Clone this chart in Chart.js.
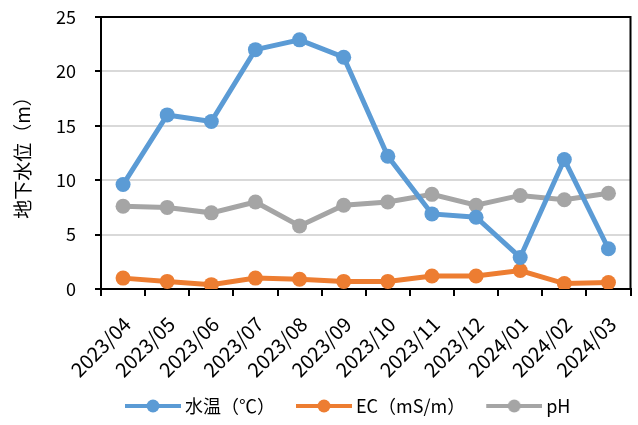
<!DOCTYPE html>
<html>
<head>
<meta charset="utf-8">
<script src="https://cdn.jsdelivr.net/npm/chart.js@4/dist/chart.umd.min.js"></script>
<style>
  html, body { margin: 0; padding: 0; background: #fff; }
  #wrap { width: 638px; height: 425px; }
</style>
</head>
<body>
<div id="wrap"><canvas id="c" width="638" height="425"></canvas></div>
<script>
// Monthly observations
const months = ['2023/04','2023/05','2023/06','2023/07','2023/08','2023/09','2023/10','2023/11','2023/12','2024/01','2024/02','2024/03'];
const waterTemp = [9.6, 16.0, 15.4, 22.0, 22.9, 21.3, 12.2, 6.9, 6.6, 2.9, 11.9, 3.7];
const ec = [1.0, 0.7, 0.4, 1.0, 0.9, 0.7, 0.7, 1.2, 1.2, 1.7, 0.5, 0.6];
const ph = [7.6, 7.5, 7.0, 8.0, 5.8, 7.7, 8.0, 8.7, 7.7, 8.6, 8.2, 8.8];
const yTicks = [0, 5, 10, 15, 20, 25];

const FONT = '"Noto Sans CJK JP", "Noto Sans", sans-serif';
const BLUE = '#5B9BD5', ORANGE = '#ED7D31', GREY = '#A5A5A5';

const LEGEND_FONT = 18;
const LEGEND_PAD = 5;
const LEGEND_BOX = 67;

// legend marker: short line with a dot; drawn in the right part of the canvas
function legendMarker(color) {
  const c = document.createElement('canvas');
  c.width = LEGEND_BOX + 10; c.height = 16;
  const g = c.getContext('2d');
  const x1 = c.width - 56, x2 = c.width;
  g.strokeStyle = color; g.lineWidth = 4; g.lineCap = 'butt';
  g.beginPath(); g.moveTo(x1, 8); g.lineTo(x2, 8); g.stroke();
  g.fillStyle = color;
  g.beginPath(); g.arc((x1 + x2) / 2, 8, 6.5, 0, Math.PI * 2); g.fill();
  return c;
}

function series(label, data, color) {
  return {
    label, data,
    borderColor: color, backgroundColor: color,
    borderWidth: 5, pointRadius: 7.5, pointHoverRadius: 7.5,
    pointBackgroundColor: color, pointBorderColor: color, pointBorderWidth: 0,
    pointStyle: 'circle', tension: 0,
    legendMarker: legendMarker(color)
  };
}

// outer frame on the top and right of the plot area
const frame = {
  id: 'frame',
  afterDatasetsDraw(chart) {
    const { ctx, chartArea: a } = chart;
    ctx.save();
    ctx.strokeStyle = '#000'; ctx.lineWidth = 2;
    ctx.beginPath();
    ctx.moveTo(a.left, a.top); ctx.lineTo(a.right, a.top); ctx.lineTo(a.right, a.bottom);
    ctx.stroke();
    ctx.restore();
  }
};

// start the legend row under the plot rather than at the canvas edge
const legendIndent = {
  id: 'legendIndent',
  afterLayout(chart) {
    if (chart.legend) chart.legend.left += 104;
  }
};

new Chart(document.getElementById('c'), {
  type: 'line',
  data: {
    labels: months,
    datasets: [
      series('水温（℃）', waterTemp, BLUE),
      series('EC（mS/m）', ec, ORANGE),
      series('pH', ph, GREY)
    ]
  },
  options: {
    responsive: false,
    animation: false,
    layout: { padding: { top: 17, right: 5, left: 0, bottom: 0 } },
    plugins: {
      tooltip: { enabled: false },
      legend: {
        position: 'bottom',
        align: 'start',
        labels: {
          color: '#000',
          font: { family: FONT, size: LEGEND_FONT },
          usePointStyle: true,
          pointStyleWidth: LEGEND_BOX,
          boxHeight: 16,
          padding: LEGEND_PAD,
          generateLabels(chart) {
            return chart.data.datasets.map((d, i) => ({
              text: d.label,
              pointStyle: d.legendMarker,
              fillStyle: d.borderColor,
              strokeStyle: d.borderColor,
              lineWidth: 0,
              hidden: false,
              datasetIndex: i,
              fontColor: '#000'
            }));
          }
        }
      }
    },
    scales: {
      x: {
        offset: true,
        border: { color: '#000', width: 2 },
        grid: { offset: true, drawOnChartArea: false, drawTicks: true, tickLength: 7, color: '#000', lineWidth: 2 },
        ticks: { color: '#000', font: { family: FONT, size: 20 }, maxRotation: 45, minRotation: 45, autoSkip: false, padding: 16, labelOffset: 4 },
        afterFit(s) { s.height = 103; s.paddingLeft = 0; s.paddingRight = 0; }
      },
      y: {
        min: 0, max: 25,
        border: { color: '#000', width: 2 },
        grid: { color: '#d9d9d9', lineWidth: 2, drawTicks: true, tickLength: 6, tickColor: '#000', tickWidth: 2 },
        afterBuildTicks(s) { s.ticks = yTicks.map(v => ({ value: v })); },
        ticks: { color: '#000', font: { family: FONT, size: 18 }, padding: 19 },
        title: { display: true, text: '地下水位（m）', color: '#000', font: { family: FONT, size: 19 }, padding: { top: 11, bottom: 0 } },
        afterFit(s) { s.width = 101; s.paddingTop = 0; s.paddingBottom = 0; }
      }
    }
  },
  plugins: [frame, legendIndent]
});
</script>
</body>
</html>
